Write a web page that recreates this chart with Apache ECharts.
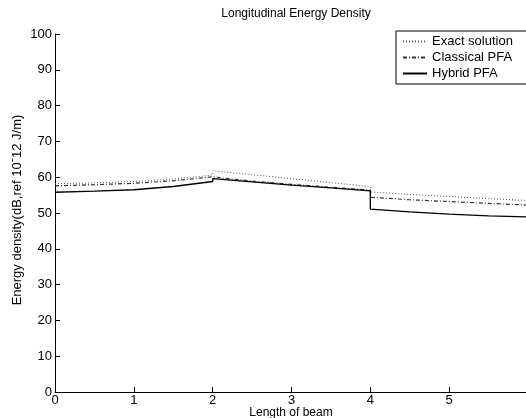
<!DOCTYPE html>
<html>
<head>
<meta charset="utf-8">
<script src="https://cdn.jsdelivr.net/npm/echarts@6/dist/echarts.min.js"></script>
<style>
html,body{margin:0;padding:0;background:#fff;}
#main{width:526px;height:418px;}
</style>
</head>
<body>
<div id="main"></div>
<script>
// x positions along beam (duplicates at 2 and 4 are the steps)
var xs = [0, 0.5, 1, 1.5, 2, 2, 2.5, 3, 3.5, 4, 4, 4.5, 5, 5.5, 6];
var exactVals     = [58.2, 58.4, 58.8, 59.5, 60.6, 61.8, 60.7, 59.6, 58.5, 57.4, 55.9, 55.2, 54.6, 54.0, 53.5];
var classicalVals = [57.6, 57.9, 58.3, 59.0, 60.1, 59.7, 58.9, 58.0, 57.2, 56.4, 54.4, 53.7, 53.2, 52.7, 52.2];
var hybridVals    = [55.8, 56.1, 56.5, 57.4, 58.8, 59.6, 58.7, 57.8, 57.0, 56.2, 51.1, 50.3, 49.7, 49.2, 48.9];
var xTicks = [0, 1, 2, 3, 4, 5];
var yTicks = [0, 10, 20, 30, 40, 50, 60, 70, 80, 90, 100];

function pairs(vals){
    var out = [];
    for(var i=0;i<xs.length;i++){
        out.push([xs[i], vals[i]]);
    }
    return out;
}

var chart = echarts.init(document.getElementById('main'));
var fnt = 'Liberation Sans, Arial, sans-serif';

option = {
    backgroundColor: '#ffffff',
    animation: false,
    title: [{
        text: 'Longitudinal Energy Density',
        left: 291,
        top: 3,
        textAlign: 'center',
        textStyle: { fontFamily: fnt, fontSize: 12, fontWeight: 'normal', color: '#000' }
    }, {
        // x axis name
        text: 'Length of beam',
        left: 291,
        top: 407,
        padding: 0,
        textAlign: 'center',
        textStyle: { fontFamily: fnt, fontSize: 12, fontWeight: 'normal', color: '#000' }
    }],
    graphic: [{
        // y axis name
        type: 'text',
        x: 17,
        y: 210,
        rotation: Math.PI / 2,
        style: {
            text: 'Energy density(dB,ref 10ˉ12 J/m)',
            font: '13px Liberation Sans, Arial, sans-serif',
            fill: '#000',
            align: 'center',
            verticalAlign: 'middle'
        }
    }],
    legend: {
        orient: 'vertical',
        left: 396,
        top: 31,
        padding: [4, 20, 4, 6],
        itemGap: 3,
        itemWidth: 24,
        itemHeight: 12,
        borderColor: '#000',
        borderWidth: 1,
        itemStyle: { opacity: 0 },
        textStyle: { fontFamily: fnt, fontSize: 13, color: '#000' },
        data: ['Exact solution', 'Classical PFA', 'Hybrid PFA']
    },
    grid: { left: 55, right: -2, top: 34, bottom: 26, outerBoundsMode: 'none', containLabel: false },
    xAxis: {
        type: 'value',
        min: 0,
        max: 6,
        interval: 1,
        axisLine: { lineStyle: { color: '#000', width: 1 } },
        axisTick: { inside: true, length: 5, lineStyle: { color: '#000' } },
        axisLabel: {
            fontFamily: fnt, fontSize: 13, color: '#000', margin: 2,
            showMaxLabel: false,
            formatter: function(v){ return xTicks.indexOf(v) >= 0 ? String(v) : ''; }
        },
        splitLine: { show: false }
    },
    yAxis: {
        type: 'value',
        min: 0,
        max: 100,
        interval: 10,
        axisLine: { show: true, lineStyle: { color: '#000', width: 1 } },
        axisTick: { show: true, inside: true, length: 5, lineStyle: { color: '#000' } },
        axisLabel: {
            fontFamily: fnt, fontSize: 13, color: '#000', margin: 3,
            formatter: function(v){ return yTicks.indexOf(v) >= 0 ? String(v) : ''; }
        },
        splitLine: { show: false }
    },
    series: [
        {
            name: 'Exact solution',
            type: 'line',
            data: pairs(exactVals),
            symbol: 'none',
            color: '#555',
            lineStyle: { color: '#555', width: 1, type: [1, 2] }
        },
        {
            name: 'Classical PFA',
            type: 'line',
            data: pairs(classicalVals),
            symbol: 'none',
            color: '#333',
            lineStyle: { color: '#333', width: 1.2, type: [4, 2, 1, 2] }
        },
        {
            name: 'Hybrid PFA',
            type: 'line',
            data: pairs(hybridVals),
            symbol: 'none',
            color: '#000',
            lineStyle: { color: '#000', width: 1.3 }
        }
    ]
};

chart.setOption(option);
</script>
</body>
</html>
